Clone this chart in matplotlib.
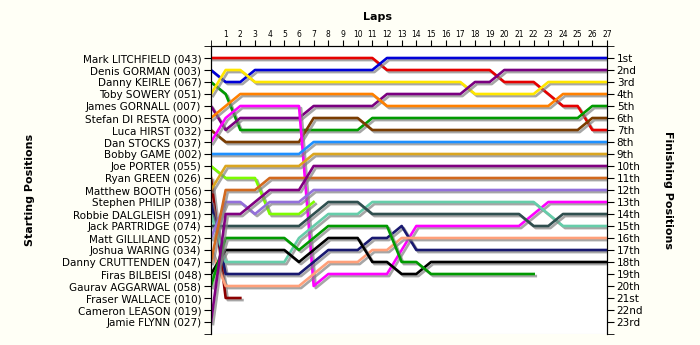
import numpy as np
import matplotlib
matplotlib.use("Agg")
import matplotlib.pyplot as plt
import matplotlib.patheffects as pe

# Drivers in starting order
drivers = [
    "Mark LITCHFIELD (043)", "Denis GORMAN (003)", "Danny KEIRLE (067)",
    "Toby SOWERY (051)", "James GORNALL (007)", "Stefan DI RESTA (00O)",
    "Luca HIRST (032)", "Dan STOCKS (037)", "Bobby GAME (002)",
    "Joe PORTER (055)", "Ryan GREEN (026)", "Matthew BOOTH (056)",
    "Stephen PHILIP (038)", "Robbie DALGLEISH (091)", "Jack PARTRIDGE (074)",
    "Matt GILLILAND (052)", "Joshua WARING (034)", "Danny CRUTTENDEN (047)",
    "Firas BILBEISI (048)", "Gaurav AGGARWAL (058)", "Fraser WALLACE (010)",
    "Cameron LEASON (019)", "Jamie FLYNN (027)",
]
finish_labels = ["1st", "2nd", "3rd"] + [f"{i}th" for i in range(4, 21)] + ["21st", "22nd", "23rd"]

N = None
laps = list(range(0, 28))

# position on each lap (lap 0 = grid)
pos_litchfield = [1]*12 + [2]*8 + [3]*3 + [4] + [5]*2 + [7]*2
pos_gorman = [2, 3, 3] + [2]*9 + [1]*16
pos_keirle = [3, 4] + [7]*9 + [6]*15 + [5]*2
pos_sowery = [4, 2, 2] + [3]*15 + [4]*5 + [3]*5
pos_gornall = [5, 7] + [6]*5 + [5]*5 + [4]*6 + [3]*2 + [2]*8
pos_diresta = [6, 5] + [4]*10 + [5]*12 + [4]*4
pos_hirst = [7] + [8]*6 + [6]*4 + [7]*15 + [6]*2
pos_stocks = [8, 6] + [5]*5 + [20] + [19]*5 + [17] + [15]*8 + [14] + [13]*5
pos_game = [9]*7 + [8]*21
pos_porter = [10, 11, 11, 11, 14, 14, 14, 13] + [N]*20
pos_green = [11, 21, 21] + [N]*25
pos_booth = [12] + [10]*6 + [9]*21
pos_philip = [13] + [19]*6 + [18] + [17]*3 + [16]*2 + [15] + [17]*14
pos_dalgleish = [14] + [18]*5 + [16] + [15] + [14]*3 + [13]*12 + [14] + [15]*4
pos_partridge = [15] + [15]*6 + [14] + [13]*3 + [14]*11 + [15]*2 + [14]*4
pos_gilliland = [16, 13, 13, 14, 13, 13, 13] + [12]*21
pos_waring = [17] + [20]*6 + [19] + [18]*3 + [17]*2 + [16]*15
pos_cruttenden = [18, 12, 12, 12] + [11]*24
pos_bilbeisi = [19] + [17]*5 + [18] + [17] + [16]*3 + [18]*2 + [19]*2 + [18]*13
pos_aggarwal = [20] + [16]*5 + [17] + [16] + [15]*5 + [18]*2 + [19]*8 + [N]*5
pos_flynn = [23, 14, 14, 13, 12, 12, 12] + [10]*21

series = [
    (pos_litchfield, "#e60000"), (pos_gorman, "#0000d8"), (pos_keirle, "#009a00"),
    (pos_sowery, "#ffe600"), (pos_gornall, "#7a0080"), (pos_diresta, "#ff8000"),
    (pos_hirst, "#7a3c00"), (pos_stocks, "#ff00ff"), (pos_game, "#1e90ff"),
    (pos_porter, "#7cfc00"), (pos_green, "#8b0000"), (pos_booth, "#daa520"),
    (pos_philip, "#191970"), (pos_dalgleish, "#66cdaa"), (pos_partridge, "#2f4f4f"),
    (pos_gilliland, "#9370db"), (pos_waring, "#ffa07a"), (pos_cruttenden, "#d2691e"),
    (pos_bilbeisi, "#000000"), (pos_aggarwal, "#009a00"), (pos_flynn, "#800080"),
]

fig = plt.figure(figsize=(7, 3.45), dpi=100, facecolor="#fffff6")
ax = fig.add_axes([211/700, 1-334/345, 396/700, 288/345])
ax.set_facecolor("white")

shadow = [pe.SimpleLineShadow(offset=(1.5, -1.5), shadow_color="#808080", alpha=0.7), pe.Normal()]
for pos, col in series:
    y = np.array([np.nan if p is None else p for p in pos], dtype=float)
    ax.plot(laps, y, color=col, lw=1.9, solid_joinstyle="round", path_effects=shadow, zorder=3)

ax.set_xlim(0, 27)
ax.set_ylim(24, 0)

ax.xaxis.tick_top()
ax.set_xticks(range(1, 28))
ax.set_xticklabels([str(i) for i in range(1, 28)], fontsize=5.5)
ax.set_xticks(range(0, 28), minor=True)
ax.tick_params(axis="x", which="both", length=4, pad=1, direction="out")

ax.set_yticks(range(1, 24))
ax.set_yticklabels(drivers, fontsize=7.5)
ax.set_yticks(range(0, 25), minor=True)
ax.tick_params(axis="y", which="both", length=5, pad=2, direction="out")

ax2 = ax.twinx()
ax2.set_ylim(24, 0)
ax2.set_yticks(range(1, 24))
ax2.set_yticklabels(finish_labels, fontsize=7.5)
ax2.set_yticks(range(0, 25), minor=True)
ax2.tick_params(axis="y", which="both", length=5, pad=2, direction="out")

ax.grid(True, which="minor", color="#e2e2e2", lw=0.8)
ax.set_axisbelow(True)
for a in (ax, ax2):
    a.spines["bottom"].set_visible(False)

fig.text(378/700, 1-17/345, "Laps", fontsize=8, fontweight="bold", ha="center", va="center")
fig.text(30/700, 1-190/345, "Starting Positions", fontsize=8, fontweight="bold",
         rotation=90, ha="center", va="center")
fig.text(668/700, 1-190/345, "Finishing Positions", fontsize=8, fontweight="bold",
         rotation=-90, ha="center", va="center")

fig.savefig("out.png", dpi=100, facecolor=fig.get_facecolor())
